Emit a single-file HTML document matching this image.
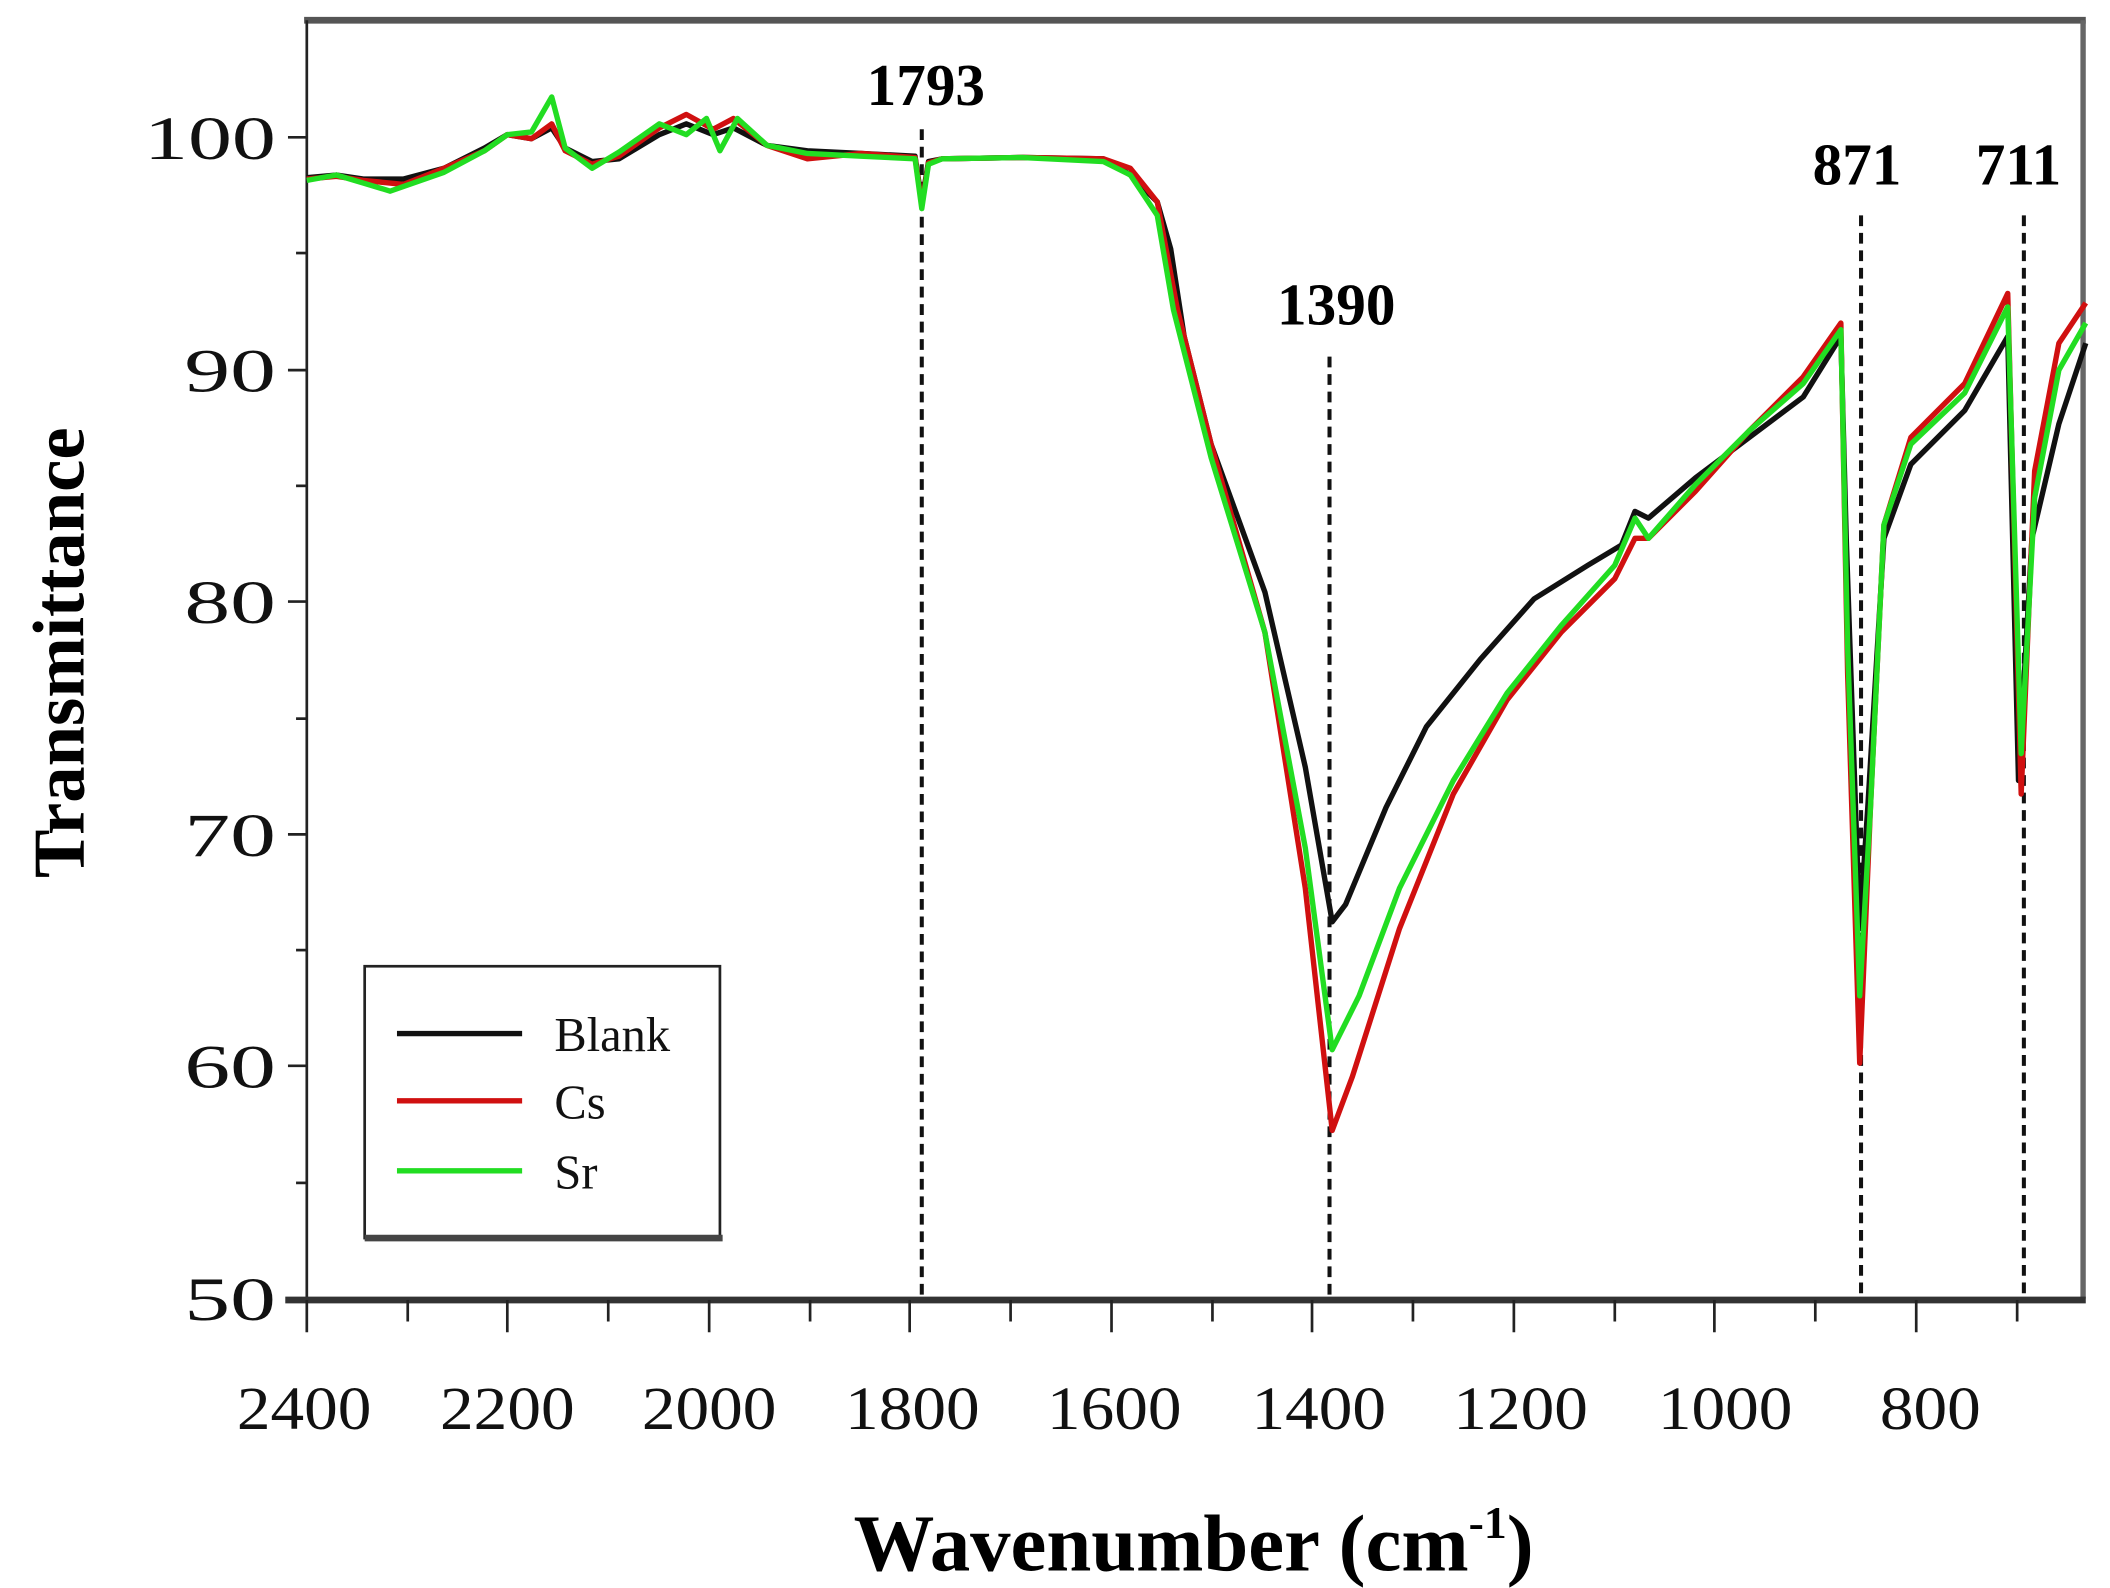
<!DOCTYPE html>
<html><head><meta charset="utf-8"><style>html,body{margin:0;padding:0;background:#fff}svg{display:block}</style></head>
<body>
<svg width="2110" height="1588" viewBox="0 0 1568 1180" xmlns="http://www.w3.org/2000/svg" font-family="Liberation Serif, serif">
<rect width="1568" height="1180" fill="#fff"/>
<line x1="226" y1="15" x2="1550" y2="15" stroke="#555" stroke-width="5"/>
<line x1="1548" y1="15" x2="1548" y2="965" stroke="#666" stroke-width="4"/>
<line x1="228" y1="15" x2="228" y2="966" stroke="#222" stroke-width="2"/>
<line x1="212" y1="966" x2="1550" y2="966" stroke="#333" stroke-width="5"/>
<g stroke="#222" stroke-width="2">
<line x1="214" y1="102" x2="228" y2="102"/><line x1="220" y1="188" x2="228" y2="188"/>
<line x1="214" y1="275" x2="228" y2="275"/><line x1="220" y1="361" x2="228" y2="361"/>
<line x1="214" y1="447" x2="228" y2="447"/><line x1="220" y1="534" x2="228" y2="534"/>
<line x1="214" y1="620" x2="228" y2="620"/><line x1="220" y1="706" x2="228" y2="706"/>
<line x1="214" y1="792" x2="228" y2="792"/><line x1="220" y1="879" x2="228" y2="879"/>
</g>
<g stroke="#222" stroke-width="2">
<line x1="228" y1="966" x2="228" y2="990"/><line x1="303" y1="966" x2="303" y2="982"/>
<line x1="377" y1="966" x2="377" y2="990"/><line x1="452" y1="966" x2="452" y2="982"/>
<line x1="527" y1="966" x2="527" y2="990"/><line x1="602" y1="966" x2="602" y2="982"/>
<line x1="676" y1="966" x2="676" y2="990"/><line x1="751" y1="966" x2="751" y2="982"/>
<line x1="826" y1="966" x2="826" y2="990"/><line x1="901" y1="966" x2="901" y2="982"/>
<line x1="975" y1="966" x2="975" y2="990"/><line x1="1050" y1="966" x2="1050" y2="982"/>
<line x1="1125" y1="966" x2="1125" y2="990"/><line x1="1200" y1="966" x2="1200" y2="982"/>
<line x1="1274" y1="966" x2="1274" y2="990"/><line x1="1349" y1="966" x2="1349" y2="982"/>
<line x1="1424" y1="966" x2="1424" y2="990"/><line x1="1499" y1="966" x2="1499" y2="982"/>
</g>
<g font-size="46" fill="#111" lengthAdjust="spacingAndGlyphs">
<text x="107" y="118" textLength="98" lengthAdjust="spacingAndGlyphs">100</text>
<text x="137" y="291" textLength="68" lengthAdjust="spacingAndGlyphs">90</text>
<text x="137" y="463" textLength="68" lengthAdjust="spacingAndGlyphs">80</text>
<text x="137" y="636" textLength="68" lengthAdjust="spacingAndGlyphs">70</text>
<text x="137" y="808" textLength="68" lengthAdjust="spacingAndGlyphs">60</text>
<text x="137" y="981" textLength="68" lengthAdjust="spacingAndGlyphs">50</text>
</g>
<g font-size="46" fill="#111">
<text x="176" y="1062" textLength="100" lengthAdjust="spacingAndGlyphs">2400</text>
<text x="327" y="1062" textLength="100" lengthAdjust="spacingAndGlyphs">2200</text>
<text x="477" y="1062" textLength="100" lengthAdjust="spacingAndGlyphs">2000</text>
<text x="628" y="1062" textLength="100" lengthAdjust="spacingAndGlyphs">1800</text>
<text x="778" y="1062" textLength="100" lengthAdjust="spacingAndGlyphs">1600</text>
<text x="930" y="1062" textLength="100" lengthAdjust="spacingAndGlyphs">1400</text>
<text x="1080" y="1062" textLength="100" lengthAdjust="spacingAndGlyphs">1200</text>
<text x="1232" y="1062" textLength="100" lengthAdjust="spacingAndGlyphs">1000</text>
<text x="1397" y="1062" textLength="75" lengthAdjust="spacingAndGlyphs">800</text>
</g>
<text x="887" y="1167" font-size="60" font-weight="bold" text-anchor="middle">Wavenumber (cm<tspan dy="-24" font-size="34">-1</tspan><tspan dy="24">)</tspan></text>
<text transform="translate(62,485) rotate(-90)" font-size="54" font-weight="bold" text-anchor="middle">Transmittance</text>
<g stroke="#111" stroke-width="3" stroke-dasharray="8,5">
<line x1="685" y1="96" x2="685" y2="965"/><line x1="988" y1="265" x2="988" y2="965"/>
<line x1="1383" y1="160" x2="1383" y2="965"/><line x1="1504" y1="160" x2="1504" y2="965"/>
</g>
<g font-size="44" font-weight="bold" text-anchor="middle">
<text x="688" y="78">1793</text><text x="993" y="241">1390</text>
<text x="1380" y="137">871</text><text x="1500" y="137">711</text>
</g>
<g fill="none" stroke-width="4" stroke-linejoin="round">
<polyline stroke="#111" points="228,132 250,130 270,133 300,133 330,125 360,110 377,100 395,103 410,95 420,110 440,120 460,118 490,100 510,92 530,100 545,95 570,108 600,112 640,114 680,116 685,150 690,120 700,118 760,117 820,118 840,130 860,150 870,185 880,250 900,330 940,440 970,570 990,685 1000,672 1030,600 1060,540 1100,490 1140,445 1180,420 1205,405 1215,380 1225,385 1260,355 1300,325 1340,295 1368,250 1372,400 1382,690 1388,600 1400,400 1420,345 1460,305 1492,250 1500,580 1510,400 1530,315 1550,255"/>
<polyline stroke="#d01010" points="228,133 250,131 270,134 300,137 330,125 360,112 377,100 395,103 410,92 420,112 440,122 460,116 490,95 510,85 530,96 545,88 570,108 600,118 640,114 680,117 685,152 690,121 700,118 760,117 820,118 840,125 860,150 875,230 900,330 940,470 970,660 990,840 1005,800 1040,690 1080,590 1120,520 1160,470 1200,430 1215,400 1225,400 1260,365 1300,320 1340,280 1368,240 1373,500 1382,790 1390,600 1400,390 1420,325 1460,285 1492,218 1502,590 1512,350 1530,255 1550,225"/>
<polyline stroke="#22dd22" points="228,134 250,130 270,136 290,142 310,135 330,128 360,112 377,100 395,98 410,72 420,110 440,125 460,113 490,92 510,100 525,88 535,112 548,88 570,108 600,114 640,116 680,118 685,155 690,122 700,118 760,117 820,120 840,130 860,160 872,230 900,340 940,470 970,630 990,780 1010,740 1040,660 1080,580 1120,515 1160,465 1200,420 1215,385 1225,400 1260,360 1300,320 1340,285 1368,245 1373,480 1382,740 1390,600 1400,390 1420,330 1460,292 1492,228 1502,560 1512,370 1530,275 1550,240"/>
</g>
<rect x="271" y="718" width="264" height="202" fill="#fff" stroke="#222" stroke-width="2"/>
<line x1="271" y1="920" x2="537" y2="920" stroke="#444" stroke-width="5"/>
<line x1="295" y1="768" x2="388" y2="768" stroke="#111" stroke-width="4"/>
<line x1="295" y1="818" x2="388" y2="818" stroke="#d01010" stroke-width="4"/>
<line x1="295" y1="870" x2="388" y2="870" stroke="#22dd22" stroke-width="4"/>
<g font-size="36" fill="#111">
<text x="412" y="781">Blank</text><text x="412" y="831">Cs</text><text x="412" y="883">Sr</text>
</g>
</svg>
</body></html>
